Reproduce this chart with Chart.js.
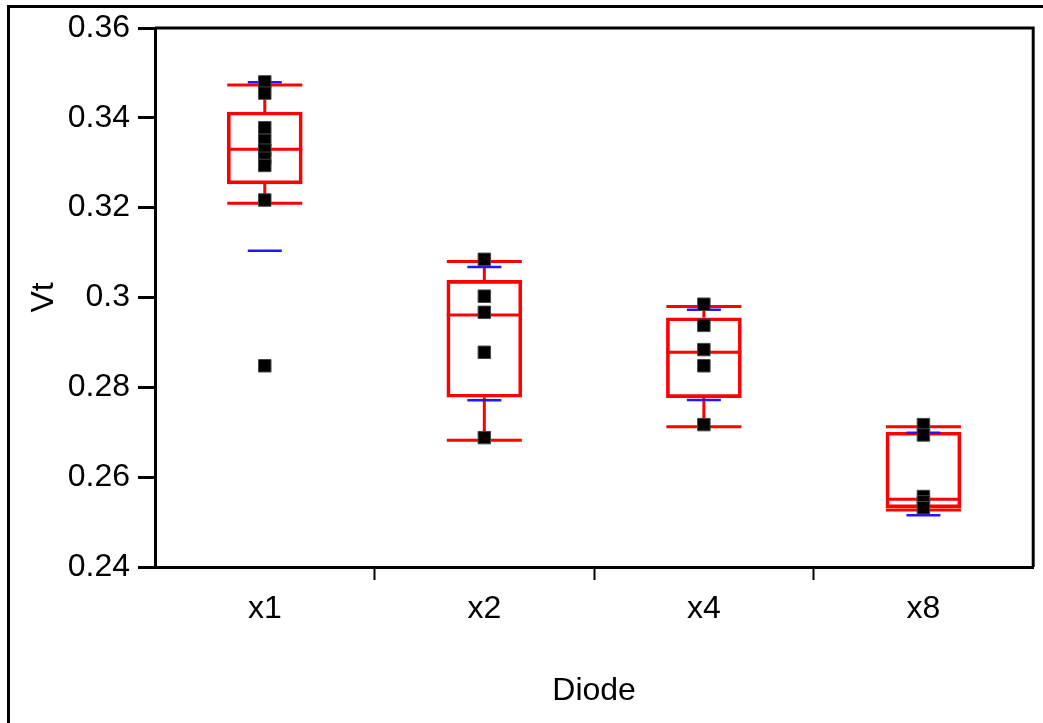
<!DOCTYPE html>
<html>
<head>
<meta charset="utf-8">
<script src="https://cdn.jsdelivr.net/npm/chart.js@4.4.1/dist/chart.umd.min.js"></script>
<style>
  html, body { margin: 0; padding: 0; background: #fff; }
  #wrap { width: 1043px; height: 723px; }
</style>
</head>
<body>
<div id="wrap"><canvas id="chart" width="1043" height="723"></canvas></div>
<script>
// categories and tick labels
const categories = ['x1', 'x2', 'x4', 'x8'];
const yTickValues = [0.24, 0.26, 0.28, 0.30, 0.32, 0.34, 0.36];
const yTickLabels = ['0.24', '0.26', '0.28', '0.3', '0.32', '0.34', '0.36'];

// box plot statistics
const q1 = [0.3253, 0.2778, 0.2777, 0.2532];
const median = [0.3330, 0.2961, 0.2878, 0.2551];
const q3 = [0.3413, 0.3038, 0.2955, 0.2700];
const whiskerLow = [0.3210, 0.2682, 0.2712, 0.2527];
const whiskerHigh = [0.3473, 0.3080, 0.2980, 0.2712];
// blue marks: mean - sd and mean + sd
const meanMinusSd = [0.3104, 0.2771, 0.2772, 0.2515];
const meanPlusSd = [0.3479, 0.3068, 0.2973, 0.2699];

// raw observations
const pointsX1 = [0.3480, 0.3455, 0.3378, 0.3350, 0.3328, 0.3310, 0.3294, 0.3217, 0.2848];
const pointsX2 = [0.3085, 0.3003, 0.2967, 0.2878, 0.2688];
const pointsX4 = [0.2985, 0.2938, 0.2884, 0.2848, 0.2717];
const pointsX8 = [0.2717, 0.2694, 0.2557, 0.2545, 0.2532];

const FONT = "'Liberation Sans', Arial, sans-serif";
const RED = '#ff0000';
const BLUE = '#2414ff';
const BOX_W = 75;
const SD_W = 34;

const allPoints = [pointsX1, pointsX2, pointsX4, pointsX8];
const scatterData = [];
allPoints.forEach((arr, i) => arr.forEach(v => scatterData.push({ x: categories[i], y: v })));

const boxPartsPlugin = {
  id: 'boxParts',
  afterDatasetDraw(chart, args) {
    if (args.index !== 0) return;
    const { ctx, scales: { x, y } } = chart;
    const hline = (cx, v, w) => {
      const py = y.getPixelForValue(v);
      ctx.beginPath();
      ctx.moveTo(cx - w / 2, py);
      ctx.lineTo(cx + w / 2, py);
      ctx.stroke();
    };
    const vline = (cx, a, b) => {
      ctx.beginPath();
      ctx.moveTo(cx, y.getPixelForValue(a));
      ctx.lineTo(cx, y.getPixelForValue(b));
      ctx.stroke();
    };
    ctx.save();
    ctx.strokeStyle = RED;
    ctx.lineWidth = 3;
    categories.forEach((c, i) => {
      const cx = x.getPixelForValue(i);
      vline(cx, q3[i], whiskerHigh[i]);
      vline(cx, q1[i], whiskerLow[i]);
      hline(cx, whiskerHigh[i], BOX_W);
      hline(cx, whiskerLow[i], BOX_W);
      hline(cx, median[i], BOX_W);
    });
    ctx.strokeStyle = BLUE;
    ctx.lineWidth = 2.5;
    categories.forEach((c, i) => {
      const cx = x.getPixelForValue(i);
      hline(cx, meanMinusSd[i], SD_W);
      hline(cx, meanPlusSd[i], SD_W);
    });
    ctx.restore();
  }
};

const framePlugin = {
  id: 'frame',
  afterDraw(chart) {
    const { ctx, chartArea: a } = chart;
    ctx.save();
    ctx.strokeStyle = '#000';
    ctx.lineWidth = 3;
    ctx.beginPath();
    ctx.moveTo(a.left, a.top);
    ctx.lineTo(a.right, a.top);
    ctx.lineTo(a.right, a.bottom);
    ctx.stroke();
    // outer figure border
    ctx.beginPath();
    ctx.moveTo(8.5, chart.height);
    ctx.lineTo(8.5, 6.5);
    ctx.lineTo(chart.width, 6.5);
    ctx.stroke();
    ctx.restore();
  }
};

new Chart(document.getElementById('chart'), {
  type: 'bar',
  data: {
    labels: categories,
    datasets: [
      {
        type: 'bar',
        data: categories.map((c, i) => [q1[i], q3[i]]),
        backgroundColor: 'rgba(0,0,0,0)',
        borderColor: RED,
        borderWidth: 3,
        borderSkipped: false,
        barThickness: BOX_W,
        order: 1
      },
      {
        type: 'line',
        data: scatterData,
        showLine: false,
        pointStyle: 'rect',
        pointRadius: 8.8,
        pointBackgroundColor: '#000',
        pointBorderColor: '#444',
        pointBorderWidth: 1,
        order: 0
      }
    ]
  },
  options: {
    responsive: false,
    animation: false,
    devicePixelRatio: 1,
    layout: { padding: { left: 0, top: 28, right: 6, bottom: 0 } },
    plugins: { legend: { display: false }, tooltip: { enabled: false } },
    scales: {
      x: {
        type: 'category',
        offset: true,
        border: { display: true, color: '#000', width: 3 },
        grid: {
          offset: true,
          drawOnChartArea: false,
          drawTicks: true,
          tickLength: 13,
          tickWidth: 2,
          tickColor: c => (c.type === 'tick' && c.index > 0) ? '#000' : 'rgba(0,0,0,0)'
        },
        ticks: { color: '#000', padding: 10, font: { family: FONT, size: 32 } },
        title: {
          display: true, text: 'Diode', color: '#000',
          font: { family: FONT, size: 32, lineHeight: 1 },
          padding: { top: 0, bottom: 16 }
        },
        afterFit: s => { s.height = 156; }
      },
      y: {
        min: 0.24,
        max: 0.36,
        border: { display: true, color: '#000', width: 3 },
        grid: {
          drawOnChartArea: false,
          drawTicks: true,
          tickLength: 17,
          tickWidth: 3,
          tickColor: '#000'
        },
        afterBuildTicks: s => { s.ticks = yTickValues.map(v => ({ value: v })); },
        ticks: {
          color: '#000', padding: 8,
          font: { family: FONT, size: 32 },
          callback: (v, i) => yTickLabels[i]
        },
        title: {
          display: true, text: 'Vt', color: '#000',
          font: { family: FONT, size: 32, lineHeight: 1 },
          padding: { top: 28, bottom: 0 }
        },
        afterFit: s => { s.width = 155; }
      }
    }
  },
  plugins: [boxPartsPlugin, framePlugin]
});
</script>
</body>
</html>
